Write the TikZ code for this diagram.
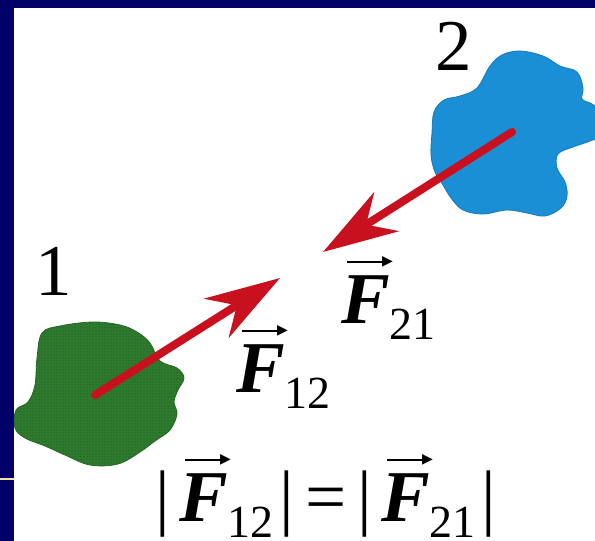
\documentclass[tikz,border=0pt]{standalone}
\usepackage{fontspec}
\setmainfont{Liberation Serif}
\newfontfamily\shapefont{DejaVu Sans}
\usetikzlibrary{arrows.meta,positioning,patterns}
\definecolor{SlideNavy}  {HTML}{000066}
\definecolor{RuleYellow} {HTML}{F2E6A6}
\definecolor{BodyGreen}  {HTML}{2E7A2E}
\definecolor{DotGreen}   {HTML}{1C4A1C}
\definecolor{BodyBlue}   {HTML}{1A8FD6}
\definecolor{ForceRed}   {HTML}{C8101E}
\newsavebox\headbox
\newcommand{\overarrow}{%
  \sbox\headbox{\fontsize{14}{14}\shapefont ▶}%
  \raisebox{\dimexpr61pt-(\ht\headbox-\dp\headbox)/2\relax}{%
    \rule[\dimexpr(\ht\headbox-\dp\headbox)/2-1.4pt\relax]{37pt}{2.8pt}%
    \kern-2pt\usebox\headbox}}
\newcommand{\vF}[1]{%
  \rlap{\kern6pt\overarrow}\textbf{\textit{F}}%
  \raisebox{-16pt}{\fontsize{46}{46}\selectfont #1}}
\tikzset{
  lbl/.style={inner sep=0pt,font=\fontsize{73}{86}\selectfont},
  force/.style={line width=8pt,line cap=round,color=ForceRed,
                -{Stealth[length=75pt,width=46pt,inset=24pt]}},
  body/.style={draw=#1!85!black,line width=0.8pt,fill=#1},
}

\begin{document}
\begin{tikzpicture}[x=1pt,y=-1pt]

  \useasboundingbox (0,0) rectangle (595,541);
  \fill[SlideNavy] (0,0) rectangle (595,541);
  \fill[white] (14,8) rectangle (595,541);
  \draw[RuleYellow,line width=2.5pt] (0,479) -- (14,479);

  % body 1
  \path[body=BodyGreen] plot[smooth cycle,tension=0.6] coordinates {
    (42,333) (60,326) (93,322) (120,325) (137,332) (150,343) (160,361)
    (177,368) (184,378) (178,390) (174,402) (177,414) (170,430) (155,441)
    (140,452) (118,464) (90,465) (65,455) (45,446) (25,438) (15,428)
    (16,410) (28,402) (35,385) (37,358)};
  \fill[pattern=dots,pattern color=DotGreen] plot[smooth cycle,tension=0.6] coordinates {
    (42,333) (60,326) (93,322) (120,325) (137,332) (150,343) (160,361)
    (177,368) (184,378) (178,390) (174,402) (177,414) (170,430) (155,441)
    (140,452) (118,464) (90,465) (65,455) (45,446) (25,438) (15,428)
    (16,410) (28,402) (35,385) (37,358)};

  % body 2
  \path[body=BodyBlue] plot[smooth cycle,tension=0.6] coordinates {
    (432,133) (434,112) (444,100) (460,96) (477,88) (490,66) (502,55)
    (520,51) (543,56) (560,66) (577,72) (583,88) (582,99) (592,104)
    (600,112) (600,135) (590,141) (573,147) (558,154) (557,168) (565,182)
    (567,196) (561,208) (545,216) (527,213) (507,210) (483,214) (463,210)
    (451,198) (443,185) (435,172) (431,155)};

  \coordinate (c1) at (95,395);
  \coordinate (c2) at (512,132);
  \coordinate (tip12) at (280,278);
  \coordinate (tip21) at (323,252);

  \draw[force] (c1) -- (tip12);
  \draw[force] (c2) -- (tip21);

  \node[lbl,anchor=base] (one) at (54,295) {1};
  \node[lbl,anchor=base] (two) at (454,70) {2};
  \node[lbl,anchor=base west] (f12) at (236,392) {\vF{12}};
  \node[lbl,anchor=base west] (f21) at (341,323) {\vF{21}};
  \node[lbl,anchor=base] (law) at (326,521)
    {|\kern9pt\vF{12}\kern6pt|\hspace{11pt}=\hspace{11pt}|\kern9pt\vF{21}\kern6pt|};

\end{tikzpicture}
\end{document}
